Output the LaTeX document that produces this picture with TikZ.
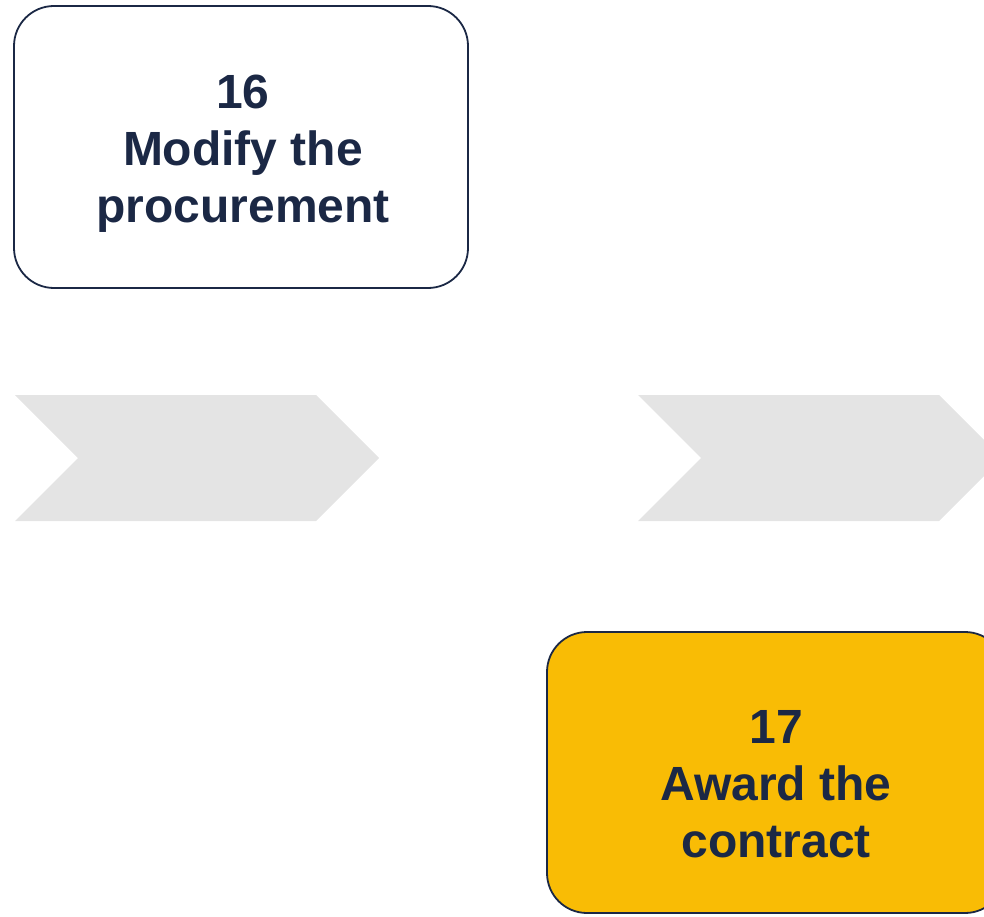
\documentclass[tikz,border=0pt]{standalone}
\usepackage{fontspec}
\setmainfont{Liberation Sans}
\definecolor{navy}{HTML}{1B2845}
\definecolor{chev}{HTML}{E4E4E4}
\definecolor{gold}{HTML}{F9BC05}
\begin{document}
\begin{tikzpicture}[x=1pt,y=-1pt,
  stepbox/.style={draw=navy,line width=1.8pt,rounded corners=40pt},
  label/.style={text=navy,font=\bfseries\fontsize{48}{57}\selectfont,align=center}]
\useasboundingbox (0,0) rectangle (984,917);
\clip (0,0) rectangle (984,917);
\fill[chev] (15,395) -- (316,395) -- (379,458) -- (316,521) -- (15,521) -- (78,458) -- cycle;
\fill[chev] (638,395) -- (939,395) -- (1002,458) -- (939,521) -- (638,521) -- (701,458) -- cycle;
\draw[stepbox,fill=white] (14,6) rectangle (468,288);
\node[label] (s16) at (243,154) {16\\Modify the\\procurement};
\draw[stepbox,fill=gold] (547,632) rectangle (1005,913);
\node[label] (s17) at (776,784) {17\\Award the\\contract};
\end{tikzpicture}
\end{document}
